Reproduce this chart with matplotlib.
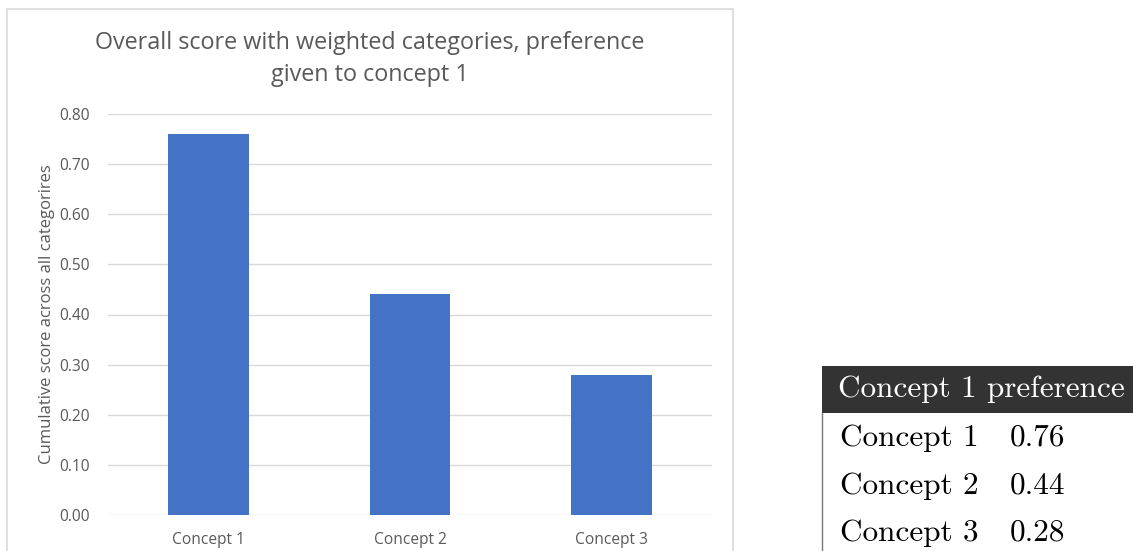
import matplotlib.pyplot as plt
from matplotlib.patches import Rectangle

concepts = ['Concept 1', 'Concept 2', 'Concept 3']
scores = [0.76, 0.44, 0.28]
yticks = [0.0, 0.1, 0.2, 0.3, 0.4, 0.5, 0.6, 0.7, 0.8]

W, H = 1133, 551
fig = plt.figure(figsize=(W / 100, H / 100), dpi=100)
fig.patch.set_facecolor('white')

# chart frame
fig.patches.append(Rectangle((7 / W, -0.05), (733 - 7) / W, 1 - 9 / H + 0.05,
                             transform=fig.transFigure, fill=False,
                             edgecolor='#d9d9d9', linewidth=1.2))

ax = fig.add_axes([108 / W, 1 - 515 / H, (712 - 108) / W, (515 - 114) / H])
ax.bar(range(len(concepts)), scores, width=0.4, color='#4472c4', zorder=3)
ax.set_xlim(-0.5, 2.5)
ax.set_ylim(0, 0.8)
ax.set_yticks(yticks)
ax.set_yticklabels([f'{v:.2f}' for v in yticks])
ax.set_xticks(range(len(concepts)))
ax.set_xticklabels(concepts)
ax.tick_params(length=0, labelsize=11.2, labelcolor='#595959')
ax.tick_params(axis='y', pad=13)
ax.tick_params(axis='x', pad=12)
for lbl in ax.get_xticklabels() + ax.get_yticklabels():
    lbl.set_fontfamily('Open Sans')
ax.grid(axis='y', color='#d9d9d9', linewidth=1, zorder=0)
for s in ax.spines.values():
    s.set_visible(False)
ax.set_ylabel('Cumulative score across all categorires', fontsize=12,
              color='#595959', family='Open Sans', labelpad=3)

fig.text(370 / W, 1 - 59 / H,
         'Overall score with weighted categories, preference\ngiven to concept 1',
         ha='center', va='center', fontsize=16.8, color='#595959',
         family='Open Sans', linespacing=1.4)

# side table
fig.patches.append(Rectangle((822 / W, 1 - 413 / H), (W - 822) / W, 47 / H,
                             transform=fig.transFigure, facecolor='#333333',
                             edgecolor='none'))
fig.add_artist(plt.Line2D([822 / W, 822 / W], [0, 1 - 413 / H],
                          transform=fig.transFigure, color='#777777', linewidth=1))
fig.text(838 / W, 1 - 389 / H, 'Concept 1 preference', ha='left', va='center',
         fontsize=22.5, color='white', family='cmr10')
row_y = [438, 486, 533]
for name, val, y in zip(concepts, scores, row_y):
    fig.text(840 / W, 1 - y / H, name, ha='left', va='center',
             fontsize=22.5, color='black', family='cmr10')
    fig.text(1010 / W, 1 - y / H, f'{val:.2f}', ha='left', va='center',
             fontsize=22.5, color='black', family='cmr10')

fig.savefig('out.png', dpi=100)
